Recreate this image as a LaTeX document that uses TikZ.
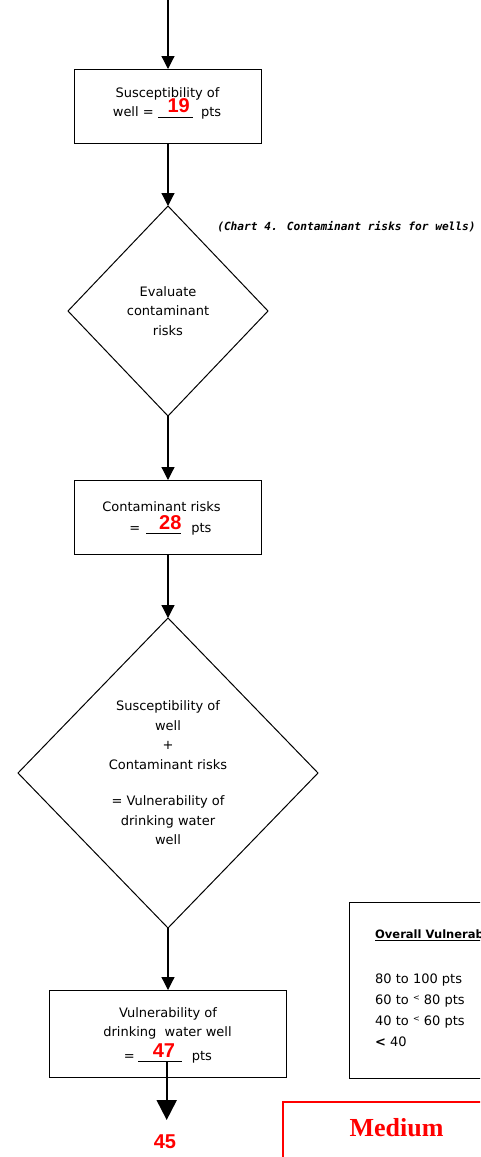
\documentclass[tikz,border=0pt]{standalone}
\usepackage{fontspec}
\setmainfont{DejaVu Sans}
\newfontfamily\numfont{Liberation Sans}
\newfontfamily\verdictfont{Liberation Serif}
\newfontfamily\notefont{DejaVu Sans Mono}
\usetikzlibrary{shapes.geometric,arrows.meta}

\definecolor{scorered}{HTML}{FF0000}

\begin{document}
\begin{tikzpicture}[x=1pt,y=-1pt,
  stepbox/.style={draw, line width=1pt, inner sep=0pt, outer sep=0pt},
  decision/.style={draw, diamond, line width=1pt, inner sep=0pt, outer sep=0pt,
    align=center, font=\fontsize{13}{19.5}\selectfont},
  txt/.style={inner sep=0pt, anchor=base, font=\fontsize{13}{19.5}\selectfont},
  score/.style={inner sep=0pt, text=scorered, font=\numfont\bfseries\fontsize{20}{20}\selectfont},
  flow/.style={line width=1.2pt, -{Triangle[width=13pt,length=13pt]}},
  bigflow/.style={line width=2pt, -{Triangle[width=20pt,length=20pt]}},
  blank/.style={line width=0.6pt}
]
\useasboundingbox (0,0) rectangle (480,1157);
\clip (0,0) rectangle (480,1157);

% ---- step 1: susceptibility of the well
\coordinate (start) at (168,0);
\node[stepbox, minimum width=187pt, minimum height=74pt] (b1) at (168,106) {};
\node[txt] (b1a) at (167.5,97) {Susceptibility of};
\node[txt] (b1b) at (167,116) {well = \hspace{39pt} pts};
\draw[blank] (158,117.5) -- (193,117.5);
\node[score] (s19) at (178.7,106) {19};

% ---- decision 1
\node[decision, minimum width=200pt, minimum height=210pt] (d1) at (168,311)
  {Evaluate\\contaminant\\risks};
\node[inner sep=0pt, font=\notefont\bfseries\itshape\fontsize{11.2}{12}\selectfont]
  (note) at (346.5,227) {(Chart 4. Contaminant risks for wells)};

% ---- step 2: contaminant risks
\node[stepbox, minimum width=187pt, minimum height=74pt] (b2) at (168,517) {};
\node[txt] (b2a) at (161.5,511) {Contaminant risks};
\node[txt] (b2b) at (170.5,532) {=\hspace{51pt}pts};
\draw[blank] (146,533.5) -- (181,533.5);
\node[score] (s28) at (170.3,523) {28};

% ---- decision 2: the sum
\node[decision, minimum width=300pt, minimum height=310pt] (d2) at (168,773)
  {Susceptibility of\\well\\+\\Contaminant risks\\[17pt]= Vulnerability of\\drinking water\\well};

% ---- step 3: vulnerability of the well
\node[stepbox, minimum width=237pt, minimum height=87pt] (b3) at (168,1033.5) {};
\node[txt] (b3a) at (168,1017) {Vulnerability of};
\node[txt] (b3b) at (167.5,1036.5) {drinking\ \ water well};
\node[txt] (b3c) at (168,1060.5) {=\hspace{57pt}pts};
\draw[blank] (138,1061.7) -- (182,1061.7);
\node[score] (s47) at (164,1051) {47};

\coordinate (outtop) at (166.7,1062);
\coordinate (outtip) at (166.7,1120);
\node[score] (s45) at (165,1142) {45};

% ---- connectors
\draw[flow] (start) -- (b1.north);
\draw[flow] (b1.south) -- (d1.north);
\draw[flow] (d1.south) -- (b2.north);
\draw[flow] (b2.south) -- (d2.north);
\draw[flow] (d2.south) -- (b3.north);
\draw[bigflow] (outtop) -- (outtip);

% ---- rating scale
\node[draw, line width=1pt, inner sep=0pt, anchor=north west,
  minimum width=171pt, minimum height=176pt] (scale) at (349,902) {};
\node[inner sep=0pt, anchor=base west, font=\bfseries\fontsize{11.5}{14}\selectfont]
  (scaletitle) at (375,938) {Overall Vulnerability};
\draw[line width=1.2pt] ([yshift=-2.7pt]scaletitle.base west) -- ([yshift=-2.7pt]scaletitle.base east);
\node[txt, anchor=base west] (r1) at (375,983) {80 to 100 pts};
\node[txt, anchor=base west] (r2) at (375,1004) {60 to {\fontsize{8}{8}\selectfont\raisebox{3.5pt}{<}} 80 pts};
\node[txt, anchor=base west] (r3) at (375,1025) {40 to {\fontsize{8}{8}\selectfont\raisebox{3.5pt}{<}} 60 pts};
\node[txt, anchor=base west] (r4) at (375,1046) {\textbf{<} 40};

% ---- verdict
\node[draw=scorered, line width=1.5pt, inner sep=0pt, anchor=north west,
  minimum width=250pt, minimum height=100pt] (verdict) at (282,1101) {};
\node[inner sep=0pt, text=scorered, font=\verdictfont\bfseries\fontsize{26}{26}\selectfont]
  (medium) at (396.5,1128) {Medium};
\end{tikzpicture}
\end{document}
